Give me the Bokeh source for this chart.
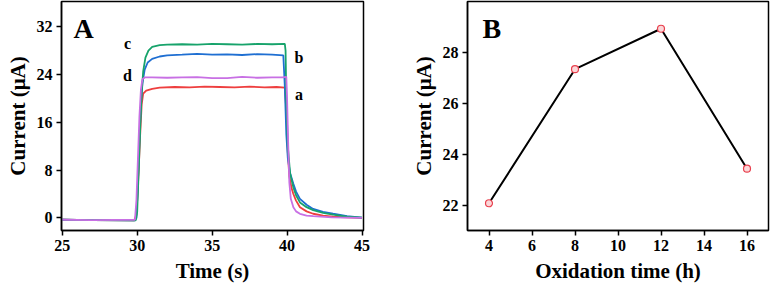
from bokeh.plotting import figure
from bokeh.layouts import row
from bokeh.models import Label, FixedTicker
from bokeh.embed import file_html
from bokeh.resources import INLINE

# ---------------- Panel A data (current transients) ----------------
t_a = [25, 27, 29.8, 29.95, 30.1, 30.2, 30.3, 30.4, 30.6, 31.0, 31.5, 32.5, 33.5, 34.5, 35.5,
       36.5, 37.5, 38.5, 39.3, 39.85, 39.95, 40.05, 40.15, 40.3, 40.42, 40.6, 40.86, 41.3,
       41.74, 42.4, 43.07, 44, 45]
i_a = [-0.3, -0.35, -0.4, 0.5, 8, 14, 19, 20.8, 21.3, 21.6, 21.8, 21.9, 21.85, 21.95, 21.9,
       21.85, 21.95, 21.85, 21.9, 21.8, 18, 11, 7, 5.0, 4.0, 2.9, 1.8, 1.1,
       0.7, 0.4, 0.2, 0.08, 0.0]

t_b = [25, 27, 29.85, 29.95, 30.05, 30.15, 30.25, 30.35, 30.5, 30.7, 31.0, 31.5, 32.0, 33, 34,
       35, 36, 37, 38, 39, 39.75, 39.85, 39.95, 40.05, 40.2, 40.42, 40.6, 40.86, 41.3, 41.74,
       42.4, 43.07, 44, 45]
i_b = [-0.3, -0.35, -0.4, 0, 6, 13, 19, 22.5, 24.8, 26.0, 26.6, 27.0, 27.2, 27.3, 27.45,
       27.3, 27.35, 27.25, 27.4, 27.3, 27.2, 22, 14, 10, 7.5, 5.7, 4.4, 3.2, 2.2, 1.5,
       1.0, 0.7, 0.3, 0.05]

t_c = [25, 27, 29.9, 30.0, 30.1, 30.2, 30.3, 30.4, 30.55, 30.75, 31.0, 31.5, 32, 33, 34,
       35, 36, 37, 38, 39, 39.85, 39.9, 39.95, 40.05, 40.2, 40.42, 40.6, 40.86, 41.3, 41.74,
       42.4, 43.07, 44, 45]
i_c = [-0.3, -0.35, -0.4, 1, 8, 15, 21, 24.5, 26.8, 28.0, 28.6, 28.9, 29.0, 29.05, 29.0,
       29.1, 29.05, 29.0, 29.1, 29.05, 29.1, 28.0, 20, 12, 7.5, 5.1, 3.8, 2.6, 1.8, 1.3,
       0.85, 0.55, 0.2, 0.05]

t_d = [25, 27, 29.85, 29.95, 30.05, 30.15, 30.25, 30.35, 30.5, 31, 32, 33, 34, 35, 36, 37,
       38, 39, 39.7, 39.95, 40.0, 40.08, 40.15, 40.25, 40.42, 40.6, 40.86, 41.3, 41.74, 43, 45]
i_d = [-0.3, -0.35, -0.3, 3, 10, 17, 21.5, 23.2, 23.5, 23.5, 23.45, 23.5, 23.55, 23.4, 23.4,
       23.6, 23.45, 23.5, 23.5, 23.6, 20, 12, 6, 3.2, 1.8, 1.1, 0.7, 0.4, 0.3, 0.1, 0.0]

curve_names = ["a", "b", "c", "d"]
curve_colors = ["#ee3f3f", "#1f6fd2", "#17a36b", "#c870e4"]
label_x = [40.8, 40.8, 29.35, 29.35]
label_y = [20.7, 26.8, 29.1, 23.8]

a_xticks = [25, 30, 35, 40, 45]
a_yticks = [0, 8, 16, 24, 32]

# ---------------- Panel B data ----------------
ox_time = [4, 8, 12, 16]
ox_current = [22.07, 27.34, 28.93, 23.43]
b_xticks = [4, 6, 8, 10, 12, 14, 16]
b_yticks = [22, 24, 26, 28]

FONT = "Liberation Serif"


def style(p, xticks, yticks, xlabel, ylabel):
    p.outline_line_color = "black"
    p.outline_line_width = 1.5
    p.outline_line_alpha = 1
    p.xgrid.visible = False
    p.ygrid.visible = False
    p.xaxis.ticker = FixedTicker(ticks=xticks)
    p.yaxis.ticker = FixedTicker(ticks=yticks)
    for ax in (p.xaxis[0], p.yaxis[0]):
        ax.axis_line_color = "black"
        ax.axis_line_width = 1.5
        ax.major_tick_line_color = "black"
        ax.major_tick_line_width = 1.5
        ax.major_tick_out = 5
        ax.major_tick_in = 0
        ax.minor_tick_line_color = None
        ax.major_label_text_font = FONT
        ax.major_label_text_font_style = "bold"
        ax.major_label_text_font_size = "16px"
        ax.major_label_text_color = "black"
        ax.axis_label_text_font = FONT
        ax.axis_label_text_font_style = "bold"
        ax.axis_label_text_font_size = "21px"
        ax.axis_label_text_color = "black"
    p.xaxis.axis_label = xlabel
    p.yaxis.axis_label = ylabel
    p.xaxis.major_label_standoff = 4
    p.xaxis.axis_label_standoff = 5
    p.yaxis.major_label_standoff = 4
    p.yaxis.axis_label_standoff = 4


pA = figure(width=384, height=285, x_range=(24.95, 45.1), y_range=(-2.1, 36.2),
            output_backend="svg", toolbar_location=None,
            min_border_left=61, min_border_right=21, min_border_top=1, min_border_bottom=52)
style(pA, a_xticks, a_yticks, "Time (s)", "Current (μA)")

series = [(t_a, i_a), (t_b, i_b), (t_c, i_c), (t_d, i_d)]
for (tt, ii), col in zip(series, curve_colors):
    pA.line(tt, ii, line_color=col, line_width=1.8)

for name, lx, ly in zip(curve_names, label_x, label_y):
    pA.add_layout(Label(x=lx, y=ly, text=name, text_font=FONT, text_font_style="bold",
                        text_font_size="16px", text_align="center", text_baseline="middle",
                        text_color="black"))

pA.add_layout(Label(x=25.75, y=34.3, text="A",
                    text_font=FONT, text_font_style="bold", text_font_size="28px",
                    text_baseline="top", text_color="black"))

pB = figure(width=388, height=285, x_range=(3, 17), y_range=(21, 30),
            output_backend="svg", toolbar_location=None,
            min_border_left=83, min_border_right=4, min_border_top=1, min_border_bottom=52)
style(pB, b_xticks, b_yticks, "Oxidation time (h)", "Current (μA)")
pB.line(ox_time, ox_current, line_color="black", line_width=2)
pB.scatter(ox_time, ox_current, size=7, marker="circle", line_color="#e8404e",
           fill_color="#fbd6d8", line_width=1.2)

pB.add_layout(Label(x=3.7, y=29.55, text="B",
                    text_font=FONT, text_font_style="bold", text_font_size="28px",
                    text_baseline="top", text_color="black"))

layout = row(pA, pB)
open("out.html", "w").write(file_html(layout, INLINE))
